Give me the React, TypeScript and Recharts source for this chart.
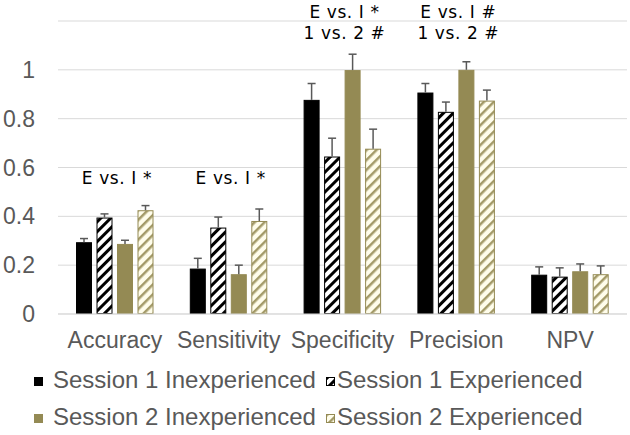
import { ComposedChart, Bar, Line, XAxis, YAxis, CartesianGrid, LabelList } from 'recharts';

const categories = ['Accuracy', 'Sensitivity', 'Specificity', 'Precision', 'NPV'];

const s1Inexp = [0.294, 0.186, 0.877, 0.907, 0.161];
const s1InexpErr = [0.015, 0.042, 0.067, 0.037, 0.032];
const s1Exp = [0.395, 0.354, 0.645, 0.828, 0.153];
const s1ExpErr = [0.015, 0.043, 0.075, 0.04, 0.036];
const s2Inexp = [0.287, 0.163, 0.999, 1.0, 0.175];
const s2InexpErr = [0.015, 0.037, 0.065, 0.033, 0.03];
const s2Exp = [0.425, 0.381, 0.677, 0.874, 0.163];
const s2ExpErr = [0.019, 0.049, 0.08, 0.043, 0.034];

// significance notes shown above each group, and the value they sit at
const annotations = [['E vs. I *'], ['E vs. I *'], ['E vs. I *', '1 vs. 2 #'], ['E vs. I #', '1 vs. 2 #'], []];
const annotY = [0.557, 0.557, 1.15, 1.15, null];

const yTicks = [0, 0.2, 0.4, 0.6, 0.8, 1];

const data = categories.map((name, i) => ({
  name,
  s1Inexp: s1Inexp[i],
  s1InexpErr: s1InexpErr[i],
  s1Exp: s1Exp[i],
  s1ExpErr: s1ExpErr[i],
  s2Inexp: s2Inexp[i],
  s2InexpErr: s2InexpErr[i],
  s2Exp: s2Exp[i],
  s2ExpErr: s2ExpErr[i],
  annotY: annotY[i],
}));

const OLIVE = '#948A54';
const GRAY = '#595959';

const series = [
  { key: 's1Inexp', err: 's1InexpErr', name: 'Session 1 Inexperienced', fill: '#000000', stroke: '#000000' },
  { key: 's1Exp', err: 's1ExpErr', name: 'Session 1 Experienced', fill: 'url(#hatchBlack)', stroke: '#000000' },
  { key: 's2Inexp', err: 's2InexpErr', name: 'Session 2 Inexperienced', fill: OLIVE, stroke: OLIVE },
  { key: 's2Exp', err: 's2ExpErr', name: 'Session 2 Experienced', fill: 'url(#hatchOlive)', stroke: OLIVE },
];

const makeShape = (valueKey: string, errKey: string, fill: string, stroke: string) => (props: any) => {
  const { x, y, width, height, payload } = props;
  const value = payload[valueKey];
  const err = payload[errKey];
  const pxPerUnit = value ? height / value : 0;
  const top = y - err * pxPerUnit;
  const cx = x + width / 2;
  return (
    <g>
      <rect x={x + 0.5} y={y + 0.5} width={width - 1} height={height - 1} fill={fill} stroke={stroke} strokeWidth={1} />
      <line x1={cx} x2={cx} y1={y} y2={top} stroke={GRAY} strokeWidth={1.5} />
      <line x1={cx - 4} x2={cx + 4} y1={top} y2={top} stroke={GRAY} strokeWidth={1.5} />
    </g>
  );
};

const renderAnnotation = (props: any) => {
  const { x, y, index } = props;
  const lines = annotations[index] || [];
  if (!lines.length || y == null) return null;
  return (
    <text x={x + 2} y={y} textAnchor="middle" fontFamily="DejaVu Sans" fontSize={17} letterSpacing={0.6} fill="#000">
      {lines.map((t, i) => (
        <tspan key={i} x={x + 2} y={y - (lines.length - 1 - i) * 21.5} dy="0.35em">
          {t}
        </tspan>
      ))}
    </text>
  );
};

const Patterns = () => (
  <defs>
    <pattern id="hatchBlack" patternUnits="userSpaceOnUse" width={7} height={7} patternTransform="rotate(45)">
      <rect width={7} height={7} fill="#ffffff" />
      <rect width={3} height={7} fill="#000000" />
    </pattern>
    <pattern id="hatchOlive" patternUnits="userSpaceOnUse" width={7} height={7} patternTransform="rotate(45)">
      <rect width={7} height={7} fill="#FFFDEB" />
      <rect width={2.5} height={7} fill="#A39A68" />
    </pattern>
  </defs>
);

const LegendMarker = ({ fill, stroke }: { fill: string; stroke: string }) => (
  <svg width={9} height={9} style={{ display: 'block' }}>
    <Patterns />
    <rect x={0.5} y={0.5} width={8} height={8} fill={fill} stroke={stroke} />
  </svg>
);

// legend layout: [markerLeft, textLeft] for the two columns
const legendCols = [
  [34, 53],
  [326, 337],
];

export default function App() {
  const textStyle = { fontFamily: 'Liberation Sans', fontSize: 23, fill: GRAY };
  return (
    <div style={{ position: 'absolute', left: 0, top: 0, width: 630, height: 435, background: '#fff' }}>
      <ComposedChart
        width={630}
        height={435}
        data={data}
        margin={{ top: 21, right: 3, left: 0, bottom: 81 }}
        barSize={16}
        barGap={4.5}
      >
        <Patterns />
        <CartesianGrid vertical={false} stroke="#d9d9d9" />
        <XAxis
          dataKey="name"
          height={40}
          tickLine={false}
          axisLine={{ stroke: '#d9d9d9' }}
          tickMargin={12}
          tick={textStyle}
          interval={0}
        />
        <YAxis
          domain={[0, 1.2]}
          ticks={yTicks}
          width={58}
          tickLine={false}
          axisLine={false}
          tickMargin={17}
          tick={textStyle}
        />
        {series.map((s) => (
          <Bar
            key={s.key}
            dataKey={s.key}
            isAnimationActive={false}
            shape={makeShape(s.key, s.err, s.fill, s.stroke)}
          />
        ))}
        <Line dataKey="annotY" stroke="none" dot={false} activeDot={false} isAnimationActive={false}>
          <LabelList dataKey="annotY" content={renderAnnotation} />
        </Line>
      </ComposedChart>
      {series.map((s, i) => {
        const row = Math.floor(i / 2);
        const [mLeft, tLeft] = legendCols[i % 2];
        const cy = 381.5 + row * 36.5;
        return (
          <div key={s.key}>
            <div style={{ position: 'absolute', left: mLeft, top: cy - 4.5 }}>
              <LegendMarker fill={s.fill} stroke={s.stroke} />
            </div>
            <div
              style={{
                position: 'absolute',
                left: tLeft,
                top: cy - 15.5,
                height: 28,
                lineHeight: '28px',
                fontFamily: 'Liberation Sans',
                fontSize: 24,
                color: GRAY,
                whiteSpace: 'nowrap',
              }}
            >
              {s.name}
            </div>
          </div>
        );
      })}
    </div>
  );
}
